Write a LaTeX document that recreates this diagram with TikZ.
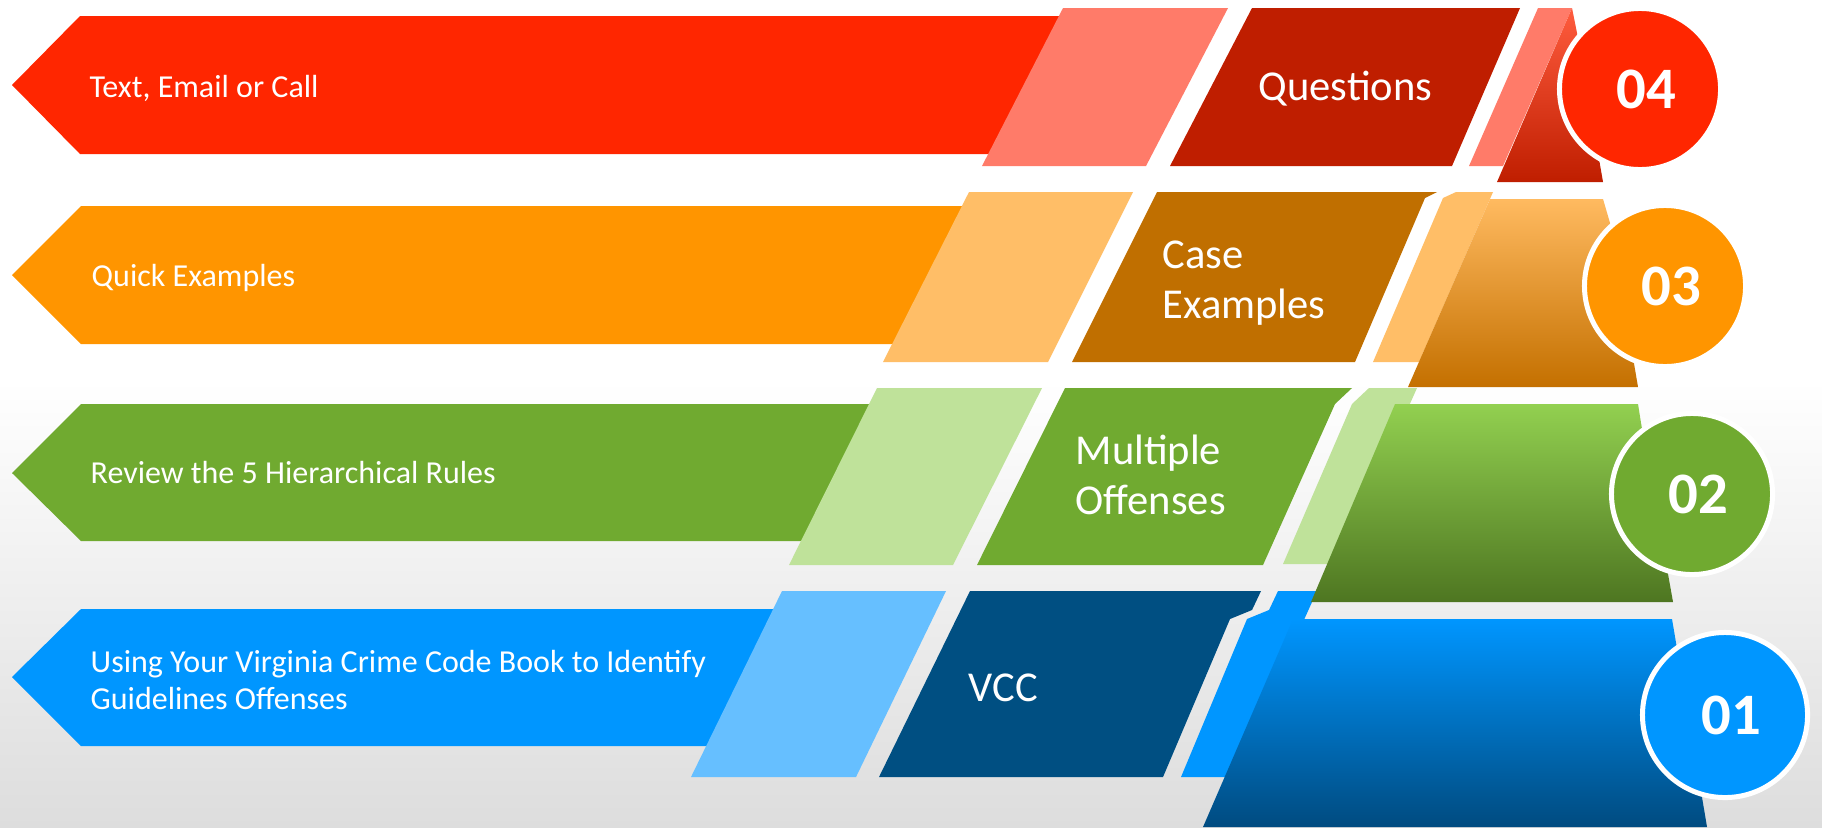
\documentclass[tikz,border=0pt]{standalone}
\usepackage{fontspec}
\setmainfont{Carlito}

\definecolor{bgGray}{RGB}{221,221,221}
\definecolor{redMain}{RGB}{255,38,0}
\definecolor{redLight}{RGB}{255,123,105}
\definecolor{redDark}{RGB}{191,30,0}
\definecolor{redTop}{RGB}{255,92,62}
\definecolor{orangeMain}{RGB}{255,149,0}
\definecolor{orangeLight}{RGB}{255,190,103}
\definecolor{orangeDark}{RGB}{192,111,0}
\definecolor{orangeTop}{RGB}{255,186,96}
\definecolor{orangeBottom}{RGB}{196,112,0}
\definecolor{greenMain}{RGB}{112,170,48}
\definecolor{greenLight}{RGB}{191,226,154}
\definecolor{greenTop}{RGB}{146,208,80}
\definecolor{greenBottom}{RGB}{78,118,33}
\definecolor{blueMain}{RGB}{0,150,255}
\definecolor{blueLight}{RGB}{102,191,255}
\definecolor{blueDark}{RGB}{0,79,130}
\definecolor{blueBottom}{RGB}{0,75,128}

\begin{document}
\begin{tikzpicture}[x=0.01cm,y=-0.01cm,
  bannertext/.style={font=\fontsize{9.1}{10.5}\selectfont, text=white, anchor=base west, inner sep=0pt, align=left},
  blocktext/.style={font=\fontsize{12.1}{14.3}\selectfont, text=white, inner sep=0pt, align=left},
  badge/.style={circle, minimum size=1.61cm, inner sep=0pt, draw=white, line width=0.05cm},
  digit/.style={font=\fontsize{16.7}{20}\selectfont\bfseries, text=white, inner sep=0pt}]

% Background
\useasboundingbox (0,0) rectangle (1822,827);
\fill[white] (0,0) rectangle (1822,381);
\shade[top color=white, bottom color=bgGray] (0,380) rectangle (1822,827);

% Row 01 (blue)
\fill[blueMain] (12,677) -- (81,609) -- (780,609) -- (780,746) -- (81,746) -- cycle; % banner
\fill[blueLight] (782,591) -- (946,591) -- (856,777) -- (691,777) -- cycle;
\fill[blueDark] (970,591) -- (1261,591) -- (1252,610) -- (1230,619) -- (1163,777) -- (879,777) -- cycle;
\fill[blueMain] (1247,619) -- (1269,610) -- (1278,591) -- (1317,591) -- (1233,777) -- (1181,777) -- cycle; % sliver
\shade[top color=blueMain, bottom color=blueBottom] (1293,619) -- (1672,619) -- (1707,827) -- (1203,827) -- cycle; % fold
\node[bannertext, anchor=west] (txtOne) at (90,680) {Using Your Virginia Crime Code Book to Identify\\Guidelines Offenses};
\node[blocktext, anchor=base west] (stepOne) at (968,701) {VCC};

% Row 02 (green)
\fill[greenMain] (12,473) -- (81,404) -- (900,404) -- (900,541) -- (81,541) -- cycle; % banner
\fill[greenLight] (877,388) -- (1042,388) -- (953,565) -- (789,565) -- cycle;
\fill[greenMain] (1065,388) -- (1352,388) -- (1335,404) -- (1263,565) -- (977,565) -- cycle;
\fill[greenLight] (1352,404) -- (1369,388) -- (1417,388) -- (1338,564) -- (1283,564) -- cycle; % sliver
\shade[top color=greenTop, bottom color=greenBottom] (1395,404) -- (1638,404) -- (1641,423) -- (1673,602) -- (1311,602) -- cycle; % fold
\node[bannertext] (txtTwo) at (90,483) {Review the 5 Hierarchical Rules};
\node[blocktext, anchor=west] (stepTwo) at (1075,475) {Multiple\\Offenses};

% Row 03 (orange)
\fill[orangeMain] (12,275) -- (81,206) -- (1000,206) -- (1000,344) -- (81,344) -- cycle; % banner
\fill[orangeLight] (969,192) -- (1133,192) -- (1048,362) -- (883,362) -- cycle;
\fill[orangeDark] (1157,192) -- (1437,192) -- (1425,198) -- (1355,362) -- (1072,362) -- cycle;
\fill[orangeLight] (1443,198) -- (1456,192) -- (1493,192) -- (1419,362) -- (1373,362) -- cycle; % sliver
\shade[top color=orangeTop, middle color=orangeMain, bottom color=orangeBottom] (1490,199) -- (1603,199) -- (1610,223) -- (1638,387) -- (1408,387) -- cycle; % fold
\node[bannertext] (txtThree) at (91,286) {Quick Examples};
\node[blocktext, anchor=west] (stepThree) at (1162,283) {Case\\Examples};

% Row 04 (red)
\fill[redMain] (12,85) -- (80,16) -- (1100,16) -- (1100,154) -- (80,154) -- cycle; % banner
\fill[redLight] (1063,8) -- (1228,8) -- (1146,166) -- (982,166) -- cycle;
\fill[redDark] (1252,8) -- (1520,8) -- (1452,166) -- (1170,166) -- cycle;
\fill[redLight] (1538,8) -- (1572,8) -- (1503,166) -- (1469,166) -- cycle; % sliver
\shade[top color=redTop, bottom color=redDark] (1572,8) -- (1577,33) -- (1603,182) -- (1497,182) -- cycle; % fold
\node[bannertext] (txtFour) at (89,97) {Text, Email or Call};
\node[blocktext, anchor=base west] (stepFour) at (1258,100) {Questions};

% Number badges
\node[badge, fill=redMain] (circFour) at (1640,89) {};
\node[digit] (numFour) at (1646,89) {04};
\node[badge, fill=orangeMain] (circThree) at (1665,286) {};
\node[digit] (numThree) at (1671,286) {03};
\node[badge, fill=greenMain] (circTwo) at (1692,494) {};
\node[digit] (numTwo) at (1698,494) {02};
\node[badge, fill=blueMain, minimum size=1.65cm] (circOne) at (1725,715) {};
\node[digit] (numOne) at (1731,715) {01};

\end{tikzpicture}
\end{document}
